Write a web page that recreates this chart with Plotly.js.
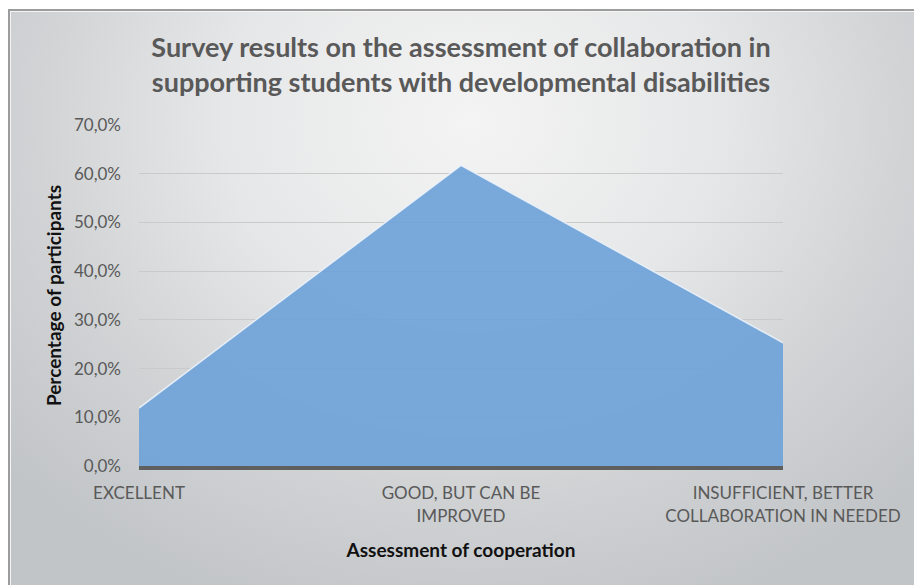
<!DOCTYPE html>
<html>
<head>
<meta charset="utf-8">
<script src="https://cdn.plot.ly/plotly-3.0.1.min.js"></script>
<style>
  html, body { margin: 0; padding: 0; background: #ffffff; width: 914px; height: 585px; overflow: hidden; }
  #frame {
    position: absolute; left: 8px; top: 9px; width: 1000px; height: 700px;
    border-left: 2px solid #9c9c9c; border-top: 2px solid #9c9c9c;
    box-shadow: inset 1px 1px 0 #f4f4f4;
    background: radial-gradient(ellipse 620px 520px at 462px 110px, #f4f4f4 0%, #e6e7e8 40%, #d1d3d5 70%, #c2c5c8 100%);
  }
  #chart { position: absolute; left: 0; top: 0; width: 914px; height: 585px; }
</style>
</head>
<body>
<div id="frame"></div>
<div id="chart"></div>
<script>
const categories = ['EXCELLENT', 'GOOD, BUT CAN BE<br>IMPROVED', 'INSUFFICIENT, BETTER<br>COLLABORATION IN NEEDED'];
const shares = [0.119, 0.617, 0.253];
const yTicks = [0, 0.1, 0.2, 0.3, 0.4, 0.5, 0.6, 0.7];

const FONT = 'Lato, "Open Sans", sans-serif';

const trace = {
  type: 'scatter',
  mode: 'lines',
  x: categories,
  y: shares,
  fill: 'tozeroy',
  fillcolor: 'rgba(112,162,216,0.93)',
  line: { color: 'rgba(235,242,250,0.9)', width: 1.5 },
  hoverinfo: 'skip'
};

const layout = {
  width: 914,
  height: 585,
  paper_bgcolor: 'rgba(0,0,0,0)',
  plot_bgcolor: 'rgba(0,0,0,0)',
  margin: { l: 139, r: 131, t: 125, b: 119, pad: 0 },
  separators: ', ',
  showlegend: false,
  title: {
    text: 'Survey results on the assessment of collaboration in<br>supporting students with developmental disabilities',
    x: 0.5, xref: 'paper', xanchor: 'center',
    y: 1 - 57 / 585, yref: 'container', yanchor: 'middle',
    font: { family: FONT, size: 27, color: '#595959', weight: 'bold' }
  },
  xaxis: {
    type: 'category',
    range: [0, 2],
    showgrid: false,
    zeroline: false,
    showline: true,
    linecolor: '#5f5f5f',
    linewidth: 4,
    ticks: '',
    ticklabelstandoff: 9,
    tickfont: { family: FONT, size: 17, color: '#595959' },
    title: { text: 'Assessment of cooperation', font: { family: FONT, size: 19, color: '#111111', weight: 'bold' }, standoff: 20 },
    fixedrange: true
  },
  yaxis: {
    range: [0, 0.7],
    tickvals: yTicks,
    tickformat: '.1%',
    showgrid: true,
    gridcolor: '#cacaca',
    gridwidth: 1,
    zeroline: false,
    showline: false,
    ticks: '',
    ticklabelstandoff: 17,
    tickfont: { family: FONT, size: 17, color: '#595959' },
    title: { text: 'Percentage of participants', font: { family: FONT, size: 19, color: '#111111', weight: 'bold' }, standoff: 7 },
    fixedrange: true
  }
};

Plotly.newPlot('chart', [trace], layout, { displayModeBar: false, staticPlot: true });
</script>
</body>
</html>
